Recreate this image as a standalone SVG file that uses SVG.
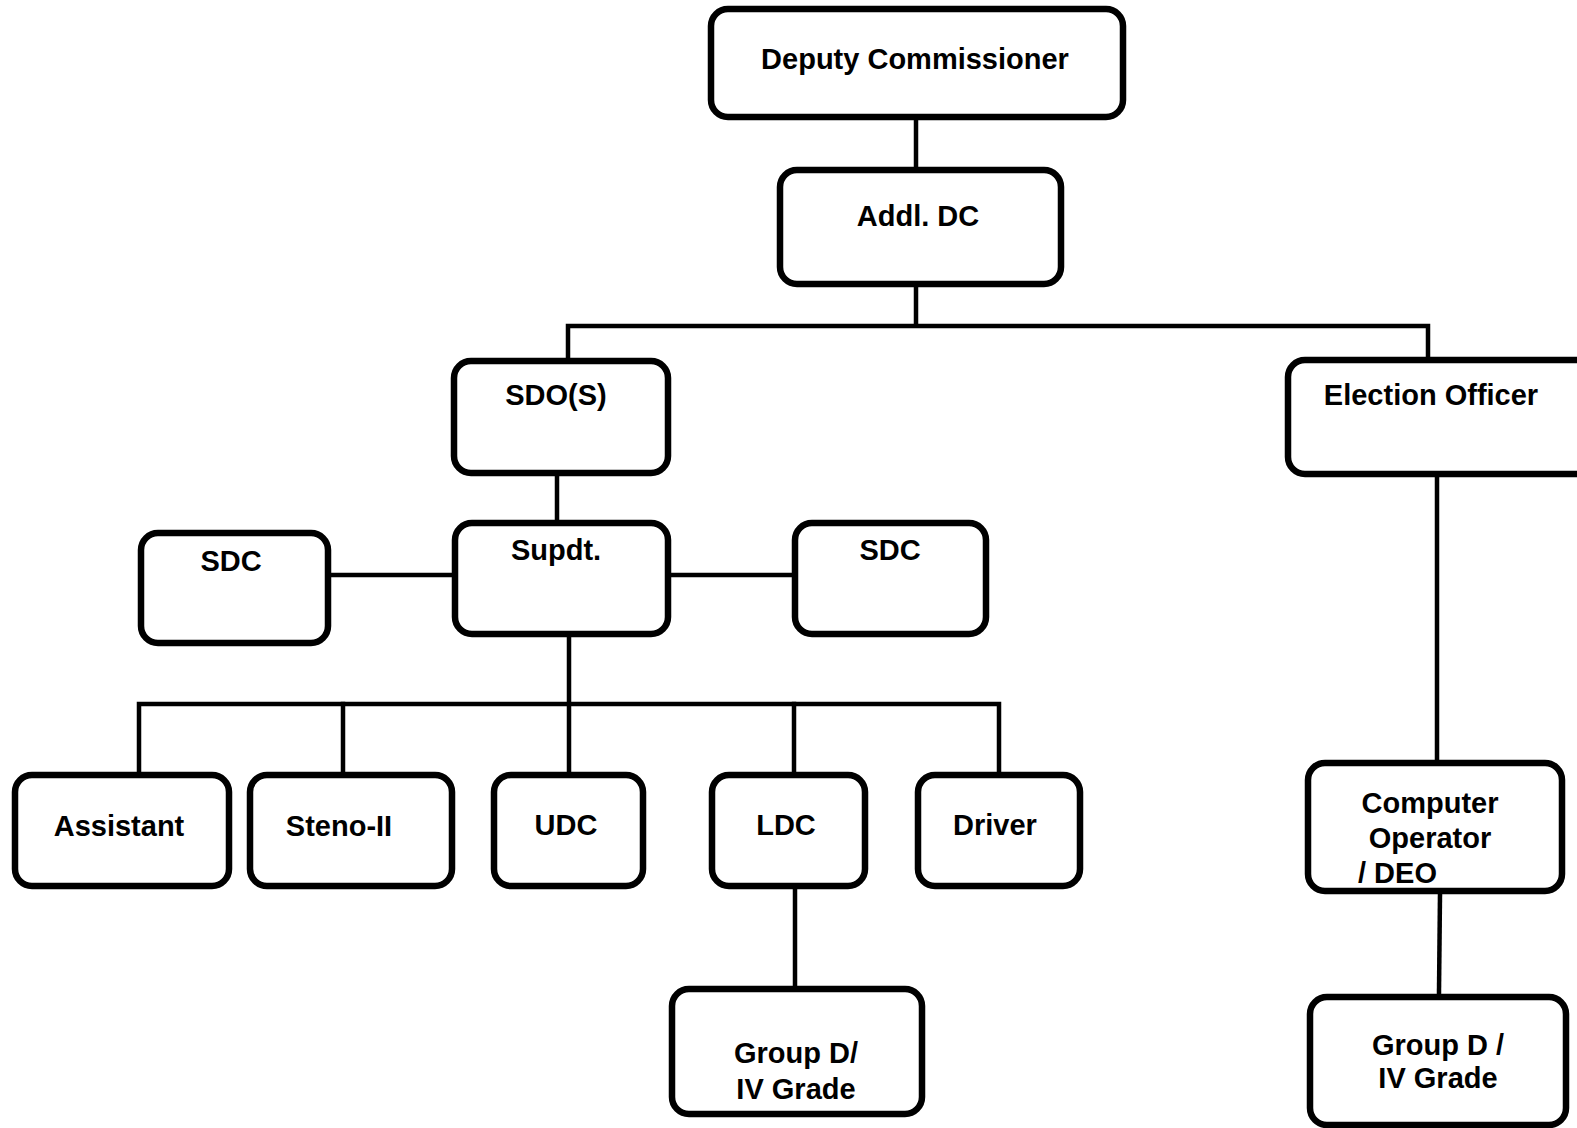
<svg xmlns="http://www.w3.org/2000/svg" width="1577" height="1128" viewBox="0 0 1577 1128">
<style>
.box{fill:#fff;stroke:#000;stroke-width:6.5}
.t{font-family:"Liberation Sans",Arial,sans-serif;font-weight:bold;font-size:29px;fill:#000;text-anchor:middle}
.c{fill:none;stroke:#000;stroke-width:4.5;stroke-linecap:square}
</style>
<rect width="1577" height="1128" fill="#fff"/>
<g id="connectors">
<path class="c" d="M916,120V167"/>
<path class="c" d="M916,287V326M568,358V326H1428V357"/>
<path class="c" d="M557,476V520"/>
<path class="c" d="M331,575H452"/>
<path class="c" d="M671,575H792"/>
<path class="c" d="M569,637V772"/>
<path class="c" d="M139,772V704H999V772"/>
<path class="c" d="M343,704V772"/>
<path class="c" d="M794,704V772"/>
<path class="c" d="M795,889V986"/>
<path class="c" d="M1437,477V760"/>
<path class="c" d="M1440,894L1439,992"/>
</g>
<g id="deputy-commissioner"><rect class="box" x="711" y="9" width="412" height="108" rx="17"/><text class="t" x="915" y="69">Deputy Commissioner</text></g>
<g id="addl-dc"><rect class="box" x="780" y="170" width="281" height="114" rx="17"/><text class="t" x="918" y="226">Addl. DC</text></g>
<g id="sdo"><rect class="box" x="454" y="361" width="214" height="112" rx="17"/><text class="t" x="556" y="405">SDO(S)</text></g>
<g id="election-officer"><rect class="box" x="1288" y="360" width="310" height="114" rx="17"/><text class="t" x="1431" y="405">Election Officer</text></g>
<g id="supdt"><rect class="box" x="455" y="523" width="213" height="111" rx="17"/><text class="t" x="556" y="560">Supdt.</text></g>
<g id="sdc-left"><rect class="box" x="141" y="533" width="187" height="110" rx="17"/><text class="t" x="231" y="571">SDC</text></g>
<g id="sdc-right"><rect class="box" x="795" y="523" width="191" height="111" rx="17"/><text class="t" x="890" y="560">SDC</text></g>
<g id="assistant"><rect class="box" x="15" y="775" width="214" height="111" rx="17"/><text class="t" x="119" y="836">Assistant</text></g>
<g id="steno"><rect class="box" x="250" y="775" width="202" height="111" rx="17"/><text class="t" x="339" y="836">Steno-II</text></g>
<g id="udc"><rect class="box" x="494" y="775" width="149" height="111" rx="17"/><text class="t" x="566" y="835">UDC</text></g>
<g id="ldc"><rect class="box" x="712" y="775" width="153" height="111" rx="17"/><text class="t" x="786" y="835">LDC</text></g>
<g id="driver"><rect class="box" x="918" y="775" width="162" height="111" rx="17"/><text class="t" x="995" y="835">Driver</text></g>
<g id="group-d-left"><rect class="box" x="672" y="989" width="250" height="125" rx="17"/><text class="t" x="796" y="1063">Group D/</text><text class="t" x="796" y="1099">IV Grade</text></g>
<g id="computer-operator"><rect class="box" x="1308" y="763" width="254" height="128" rx="17"/><text class="t" x="1430" y="813">Computer</text><text class="t" x="1430" y="848">Operator</text><text class="t" x="1358" y="883" style="text-anchor:start">/ DEO</text></g>
<g id="group-d-right"><rect class="box" x="1310" y="997" width="256" height="128" rx="17"/><text class="t" x="1438" y="1055">Group D /</text><text class="t" x="1438" y="1088">IV Grade</text></g>
</svg>
